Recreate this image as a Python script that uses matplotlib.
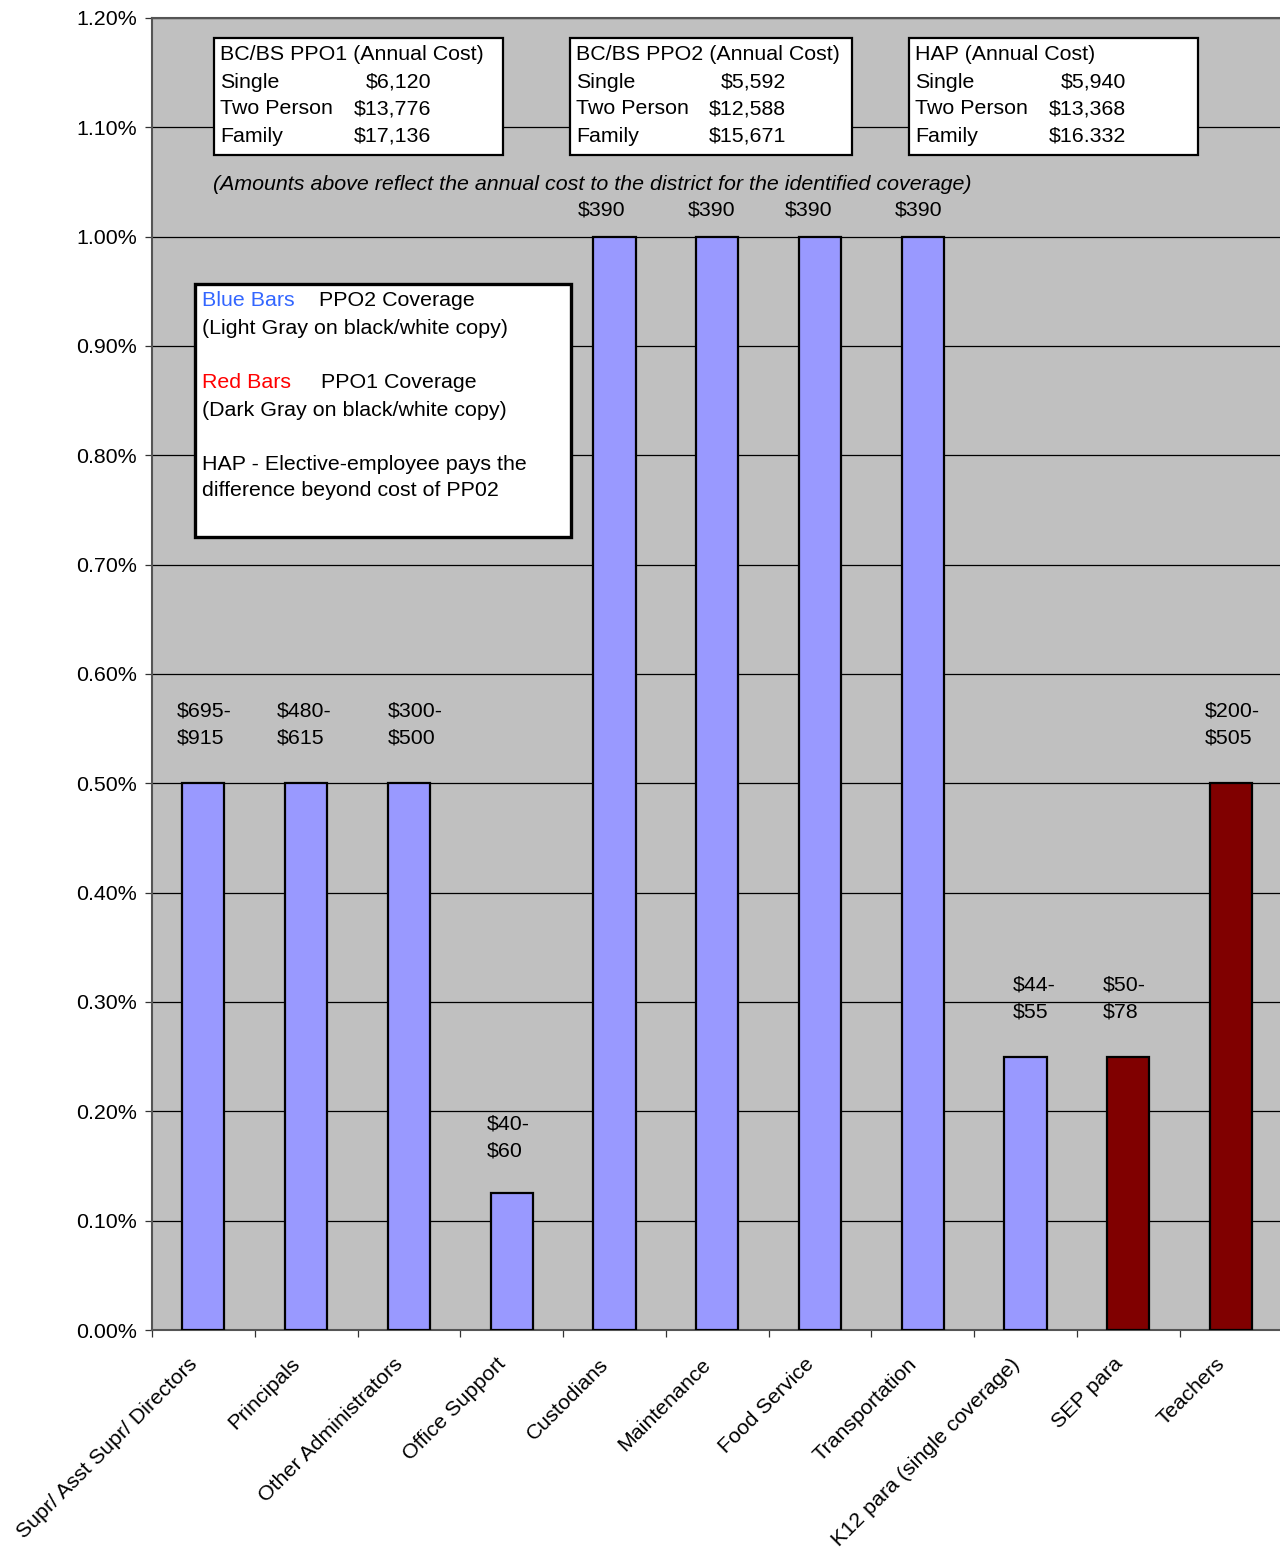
import matplotlib
matplotlib.use("Agg")
import matplotlib.pyplot as plt
from matplotlib.patches import Rectangle
from matplotlib.transforms import ScaledTranslation
import numpy as np

# ---------------- data ----------------
categories = ["Supr/ Asst Supr/ Directors", "Principals", "Other Administrators",
              "Office Support", "Custodians", "Maintenance", "Food Service",
              "Transportation", "K12 para (single coverage)", "SEP para", "Teachers"]
rates = [0.50, 0.50, 0.50, 0.125, 1.00, 1.00, 1.00, 1.00, 0.25, 0.25, 0.50]
coverage = ["PPO2", "PPO2", "PPO2", "PPO2", "PPO2", "PPO2", "PPO2", "PPO2",
            "PPO2", "PPO1", "PPO1"]
value_labels = ["$695-\n$915", "$480-\n$615", "$300-\n$500", "$40-\n$60",
                "$390", "$390", "$390", "$390", "$44-\n$55", "$50-\n$78",
                "$200-\n$505"]
y_ticks = [0.0, 0.1, 0.2, 0.3, 0.4, 0.5, 0.6, 0.7, 0.8, 0.9, 1.0, 1.1, 1.2]

cost_titles = ["BC/BS PPO1 (Annual Cost)", "BC/BS PPO2 (Annual Cost)", "HAP (Annual Cost)"]
cost_rows = ["Single", "Two Person", "Family"]
ppo1_costs = ["$6,120", "$13,776", "$17,136"]
ppo2_costs = ["$5,592", "$12,588", "$15,671"]
hap_costs = ["$5,940", "$13,368", "$16.332"]
note_text = "(Amounts above reflect the annual cost to the district for the identified coverage)"

# ---------------- style ----------------
W, H = 1280, 1552
FONT = "Liberation Sans"
FS = 15.4
plt.rcParams["font.family"] = [FONT, "DejaVu Sans"]
colors = {"PPO2": "#9999FF", "PPO1": "#800000"}

def fx(x):
    return x / W

def fy(y):
    return 1 - y / H

fig = plt.figure(figsize=(W / 100, H / 100), dpi=100)
fig.patch.set_facecolor("white")
ax = fig.add_axes([fx(152), fy(1330), (1282.5 - 152) / W, (1330 - 18) / H])
ax.set_facecolor("#C0C0C0")

x = np.arange(len(categories))
ax.bar(x, rates, width=0.41, color=[colors[c] for c in coverage],
       edgecolor="black", linewidth=1.6, zorder=3)

ax.set_xlim(-0.5, len(categories) - 0.5)
ax.set_ylim(0, 1.2)
ax.set_yticks(y_ticks)
ax.set_yticklabels([f"{v:.2f}%" for v in y_ticks], fontsize=FS)
ax.yaxis.grid(True, color="black", linewidth=0.9)
ax.set_axisbelow(True)
ax.tick_params(axis="y", length=5, width=0.9, pad=5.8, color="#333333")

ax.set_xticks(x)
ax.set_xticklabels(categories, fontsize=FS, rotation=45, ha="right",
                   va="center", rotation_mode="anchor")
ax.set_xticks(np.arange(-0.5, len(categories), 1), minor=True)
ax.tick_params(axis="x", which="major", length=0, pad=22.5)
ax.tick_params(axis="x", which="minor", length=5, width=0.9, color="#333333")
off = ScaledTranslation(-9 / 100, 0, fig.dpi_scale_trans)
for lab in ax.get_xticklabels():
    lab.set_transform(lab.get_transform() + off)

for side in ["left", "bottom", "top"]:
    ax.spines[side].set_color("#555555")
    ax.spines[side].set_linewidth(1.5)
ax.spines["right"].set_visible(False)

# value labels above bars (pixel offsets: dx, dy)
label_dx = [-27, -29, -21, -25, -37, -29, -35, -28, -13, -26, -26]
label_dy = [36, 36, 36, 33, 17, 17, 17, 17, 35, 35, 36]
for i, (r, t) in enumerate(zip(rates, value_labels)):
    ax.annotate(t, xy=(i, r), xytext=(label_dx[i], label_dy[i]),
                textcoords="offset pixels", ha="left", va="bottom",
                fontsize=FS, linespacing=1.55, zorder=5)

# ---------------- cost boxes ----------------
boxes = [(214, 503, 431, ppo1_costs), (570, 852, 786, ppo2_costs),
         (909, 1198, 1126, hap_costs)]
line_y = [54, 82, 109, 136]
for (x0, x1, xr, costs), title in zip(boxes, cost_titles):
    fig.add_artist(Rectangle((fx(x0), fy(155)), (x1 - x0) / W, (155 - 38) / H,
                             transform=fig.transFigure, facecolor="white",
                             edgecolor="black", linewidth=1.6, zorder=6))
    fig.text(fx(x0 + 6), fy(line_y[0]), title, fontsize=FS, va="center",
             ha="left", zorder=7)
    for ly, row, c in zip(line_y[1:], cost_rows, costs):
        fig.text(fx(x0 + 6), fy(ly), row, fontsize=FS, va="center",
                 ha="left", zorder=7)
        fig.text(fx(xr), fy(ly), c, fontsize=FS, va="center",
                 ha="right", zorder=7)

fig.text(fx(213), fy(184), note_text, fontsize=FS, style="italic",
         va="center", ha="left", zorder=7)

# ---------------- legend box ----------------
fig.add_artist(Rectangle((fx(195), fy(537)), (571 - 195) / W, (537 - 284) / H,
                         transform=fig.transFigure, facecolor="white",
                         edgecolor="black", linewidth=2.4, zorder=6))
legend_lines = [
    (202, 301, "Blue Bars", "#3366FF"),
    (319, 301, "PPO2 Coverage", "black"),
    (202, 328, "(Light Gray on black/white copy)", "black"),
    (202, 382, "Red Bars", "#FF0000"),
    (321, 382, "PPO1 Coverage", "black"),
    (202, 410, "(Dark Gray on black/white copy)", "black"),
    (202, 464, "HAP - Elective-employee pays the", "black"),
    (202, 491, "difference beyond cost of PP02", "black"),
]
for lx, ly, t, c in legend_lines:
    fig.text(fx(lx), fy(ly), t, color=c, fontsize=FS, va="center",
             ha="left", zorder=7)

fig.savefig("out.png", dpi=100)
